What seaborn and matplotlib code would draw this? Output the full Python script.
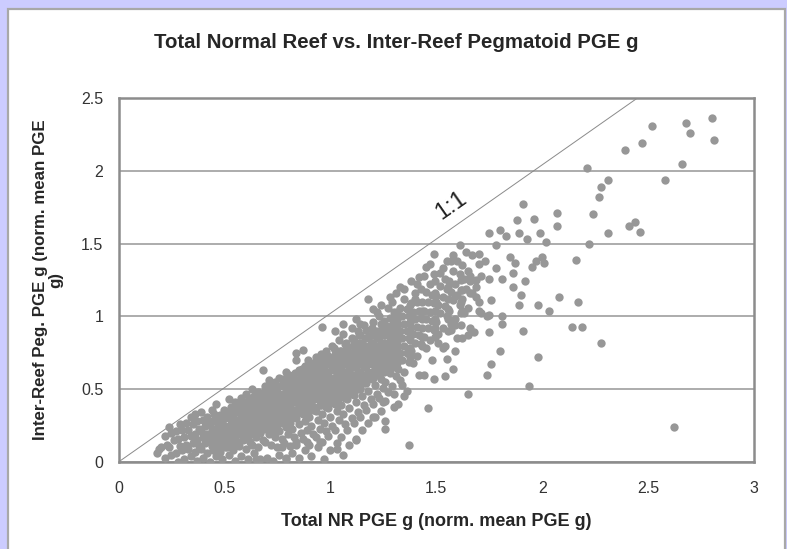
import seaborn as sns
import matplotlib.pyplot as plt
import pandas as pd
from matplotlib.patches import Rectangle

# lower-left end of the cloud (x 0.18 - 0.53)
low_x = [
    0.18, 0.19, 0.20,
    0.22, 0.23, 0.22,
    0.25, 0.24, 0.26, 0.25, 0.24,
    0.28, 0.27, 0.29, 0.28, 0.27, 0.29,
    0.31, 0.30, 0.32, 0.31, 0.30, 0.32,
    0.34, 0.33, 0.35, 0.34, 0.33, 0.35, 0.34,
    0.37, 0.36, 0.38, 0.37, 0.36, 0.38, 0.37, 0.36,
    0.40, 0.39, 0.41, 0.40, 0.39, 0.41, 0.40, 0.39,
    0.43, 0.42, 0.44, 0.43, 0.42, 0.44, 0.43, 0.42, 0.44,
    0.46, 0.45, 0.47, 0.46, 0.45, 0.47, 0.46, 0.45, 0.46,
    0.49, 0.48, 0.50, 0.49, 0.48, 0.50, 0.49, 0.48, 0.50,
    0.52, 0.51, 0.53, 0.52, 0.51, 0.53, 0.52, 0.51, 0.53, 0.52,
]
low_y = [
    0.06, 0.09, 0.10,
    0.03, 0.12, 0.18,
    0.05, 0.10, 0.15, 0.20, 0.24,
    0.00, 0.06, 0.11, 0.16, 0.21, 0.26,
    0.02, 0.08, 0.12, 0.17, 0.22, 0.27,
    0.04, 0.09, 0.13, 0.18, 0.22, 0.26, 0.31,
    0.01, 0.07, 0.11, 0.15, 0.19, 0.23, 0.28, 0.33,
    0.03, 0.09, 0.13, 0.17, 0.21, 0.25, 0.29, 0.34,
    0.00, 0.06, 0.11, 0.15, 0.19, 0.23, 0.27, 0.31, 0.36,
    0.04, 0.09, 0.13, 0.17, 0.21, 0.25, 0.29, 0.33, 0.40,
    0.02, 0.07, 0.12, 0.16, 0.20, 0.24, 0.28, 0.32, 0.36,
    0.05, 0.10, 0.14, 0.18, 0.22, 0.26, 0.30, 0.34, 0.38, 0.43,
]

# main body (x 0.54 - 0.89)
mid_x = [
    0.55, 0.54, 0.56, 0.55, 0.54, 0.56, 0.55, 0.54, 0.56, 0.55,
    0.58, 0.57, 0.59, 0.58, 0.57, 0.59, 0.58, 0.57, 0.59, 0.58,
    0.61, 0.60, 0.62, 0.61, 0.60, 0.62, 0.61, 0.60, 0.62, 0.61, 0.60,
    0.64, 0.63, 0.65, 0.64, 0.63, 0.65, 0.64, 0.63, 0.65, 0.64, 0.63,
    0.67, 0.66, 0.68, 0.67, 0.66, 0.68, 0.67, 0.66, 0.68, 0.67, 0.66, 0.68,
    0.70, 0.69, 0.71, 0.70, 0.69, 0.71, 0.70, 0.69, 0.71, 0.70, 0.69, 0.71,
    0.73, 0.72, 0.74, 0.73, 0.72, 0.74, 0.73, 0.72, 0.74, 0.73, 0.72, 0.74,
    0.76, 0.75, 0.77, 0.76, 0.75, 0.77, 0.76, 0.75, 0.77, 0.76, 0.75, 0.77, 0.76,
    0.79, 0.78, 0.80, 0.79, 0.78, 0.80, 0.79, 0.78, 0.80, 0.79, 0.78, 0.80, 0.79,
    0.82, 0.81, 0.83, 0.82, 0.81, 0.83, 0.82, 0.81, 0.83, 0.82, 0.81, 0.83, 0.82, 0.84,
    0.85, 0.84, 0.86, 0.85, 0.84, 0.86, 0.85, 0.84, 0.86, 0.85, 0.84, 0.86, 0.85, 0.84,
    0.88, 0.87, 0.89, 0.88, 0.87, 0.89, 0.88, 0.87, 0.89, 0.88, 0.87, 0.89, 0.88,
]
mid_y = [
    0.01, 0.08, 0.13, 0.17, 0.21, 0.25, 0.29, 0.33, 0.37, 0.41,
    0.04, 0.11, 0.15, 0.19, 0.23, 0.27, 0.31, 0.35, 0.39, 0.44,
    0.02, 0.09, 0.14, 0.18, 0.22, 0.26, 0.30, 0.34, 0.38, 0.42, 0.47,
    0.06, 0.12, 0.17, 0.21, 0.25, 0.29, 0.33, 0.37, 0.41, 0.45, 0.50,
    0.02, 0.10, 0.15, 0.20, 0.24, 0.28, 0.32, 0.36, 0.40, 0.44, 0.48, 0.63,
    0.03, 0.14, 0.19, 0.23, 0.27, 0.31, 0.35, 0.39, 0.43, 0.47, 0.52, 0.56,
    0.01, 0.12, 0.17, 0.22, 0.26, 0.30, 0.34, 0.38, 0.42, 0.46, 0.50, 0.55,
    0.05, 0.10, 0.16, 0.21, 0.25, 0.29, 0.33, 0.37, 0.41, 0.45, 0.49, 0.53, 0.58,
    0.02, 0.13, 0.19, 0.24, 0.28, 0.32, 0.36, 0.40, 0.44, 0.48, 0.52, 0.56, 0.62,
    0.06, 0.11, 0.17, 0.23, 0.27, 0.31, 0.35, 0.39, 0.43, 0.47, 0.51, 0.55, 0.59, 0.75,
    0.03, 0.14, 0.20, 0.26, 0.30, 0.34, 0.38, 0.42, 0.46, 0.50, 0.54, 0.58, 0.63, 0.70,
    0.08, 0.16, 0.22, 0.28, 0.33, 0.37, 0.41, 0.45, 0.49, 0.53, 0.57, 0.61, 0.66,
]

# upper body (x 0.90 - 1.25)
upper_x = [
    0.91, 0.90, 0.92, 0.91, 0.90, 0.92, 0.91, 0.90, 0.92, 0.91, 0.90, 0.92, 0.91, 0.90, 0.87,
    0.94, 0.93, 0.95, 0.94, 0.93, 0.95, 0.94, 0.93, 0.95, 0.94, 0.93, 0.95, 0.94, 0.93,
    0.97, 0.96, 0.98, 0.97, 0.96, 0.98, 0.97, 0.96, 0.98, 0.97, 0.96, 0.98, 0.97, 0.96, 0.98, 0.96,
    1.00, 0.99, 1.01, 1.00, 0.99, 1.01, 1.00, 0.99, 1.01, 1.00, 0.99, 1.01, 1.00, 0.99, 1.01,
    1.03, 1.02, 1.04, 1.03, 1.02, 1.04, 1.03, 1.02, 1.04, 1.03, 1.02, 1.04, 1.03, 1.02, 1.04,
    1.06, 1.05, 1.07, 1.06, 1.05, 1.07, 1.06, 1.05, 1.07, 1.06, 1.05, 1.07, 1.06, 1.05, 1.07, 1.06,
    1.09, 1.08, 1.10, 1.09, 1.08, 1.10, 1.09, 1.08, 1.10, 1.09, 1.08, 1.10, 1.09, 1.08, 1.10,
    1.12, 1.11, 1.13, 1.12, 1.11, 1.13, 1.12, 1.11, 1.13, 1.12, 1.11, 1.13, 1.12, 1.11, 1.13, 1.12,
    1.15, 1.14, 1.16, 1.15, 1.14, 1.16, 1.15, 1.14, 1.16, 1.15, 1.14, 1.16, 1.15, 1.14, 1.16,
    1.18, 1.17, 1.19, 1.18, 1.17, 1.19, 1.18, 1.17, 1.19, 1.18, 1.17, 1.19, 1.18, 1.17, 1.18,
    1.21, 1.20, 1.22, 1.21, 1.20, 1.22, 1.21, 1.20, 1.22, 1.21, 1.20, 1.22, 1.21, 1.20, 1.22,
    1.24, 1.23, 1.25, 1.24, 1.23, 1.25, 1.24, 1.23, 1.25, 1.24, 1.23, 1.25, 1.24, 1.23,
]
upper_y = [
    0.04, 0.12, 0.19, 0.25, 0.31, 0.36, 0.40, 0.44, 0.48, 0.52, 0.56, 0.60, 0.64, 0.69, 0.77,
    0.10, 0.17, 0.23, 0.29, 0.35, 0.39, 0.43, 0.47, 0.51, 0.55, 0.59, 0.63, 0.67, 0.72,
    0.02, 0.14, 0.21, 0.27, 0.33, 0.38, 0.42, 0.46, 0.50, 0.54, 0.58, 0.62, 0.66, 0.70, 0.76, 0.93,
    0.08, 0.18, 0.25, 0.31, 0.37, 0.41, 0.45, 0.49, 0.53, 0.57, 0.61, 0.65, 0.69, 0.73, 0.80,
    0.13, 0.22, 0.29, 0.35, 0.40, 0.44, 0.48, 0.52, 0.56, 0.60, 0.64, 0.68, 0.72, 0.77, 0.84,
    0.05, 0.17, 0.26, 0.33, 0.39, 0.44, 0.48, 0.52, 0.56, 0.60, 0.64, 0.68, 0.72, 0.76, 0.81, 0.88,
    0.12, 0.22, 0.30, 0.37, 0.43, 0.47, 0.51, 0.55, 0.59, 0.63, 0.67, 0.71, 0.75, 0.79, 0.85,
    0.16, 0.27, 0.34, 0.41, 0.46, 0.50, 0.54, 0.58, 0.62, 0.66, 0.70, 0.74, 0.78, 0.83, 0.90, 0.98,
    0.22, 0.31, 0.39, 0.45, 0.50, 0.54, 0.58, 0.62, 0.66, 0.70, 0.74, 0.78, 0.82, 0.87, 0.94,
    0.27, 0.36, 0.43, 0.49, 0.54, 0.58, 0.62, 0.66, 0.70, 0.74, 0.78, 0.82, 0.86, 0.91, 1.12,
    0.31, 0.40, 0.47, 0.53, 0.58, 0.62, 0.66, 0.70, 0.74, 0.78, 0.82, 0.86, 0.90, 0.96, 1.03,
    0.35, 0.44, 0.51, 0.57, 0.62, 0.66, 0.70, 0.74, 0.78, 0.82, 0.86, 0.90, 0.95, 1.00,
]

# thinning tail (x 1.26 - 1.71)
tail_x = [
    1.27, 1.26, 1.28, 1.27, 1.26, 1.28, 1.27, 1.26, 1.28, 1.27, 1.26, 1.28, 1.27,
    1.30, 1.29, 1.31, 1.30, 1.29, 1.31, 1.30, 1.29, 1.31, 1.30, 1.29, 1.31, 1.30, 1.29,
    1.33, 1.32, 1.34, 1.33, 1.32, 1.34, 1.33, 1.32, 1.34, 1.33, 1.33,
    1.36, 1.35, 1.37, 1.36, 1.35, 1.37, 1.36, 1.35, 1.37, 1.36, 1.35,
    1.39, 1.38, 1.40, 1.39, 1.38, 1.40, 1.39, 1.38, 1.40,
    1.42, 1.41, 1.43, 1.42, 1.41, 1.43, 1.42, 1.41, 1.43, 1.42,
    1.45, 1.44, 1.46, 1.45, 1.44, 1.46, 1.45, 1.45,
    1.48, 1.47, 1.49, 1.48, 1.47, 1.49, 1.48, 1.47, 1.49,
    1.51, 1.50, 1.52, 1.51, 1.50, 1.52, 1.49,
    1.54, 1.53, 1.55, 1.54, 1.53, 1.55, 1.54, 1.53,
    1.57, 1.56, 1.58, 1.57, 1.56, 1.58,
    1.60, 1.59, 1.61, 1.60, 1.59, 1.61, 1.60, 1.61,
    1.63, 1.62, 1.64, 1.63, 1.62,
    1.66, 1.65, 1.67, 1.66, 1.65, 1.67,
    1.70, 1.69, 1.71, 1.70, 1.70,
]
tail_y = [
    0.48, 0.55, 0.61, 0.66, 0.70, 0.74, 0.78, 0.82, 0.86, 0.90, 0.94, 0.99, 1.06,
    0.38, 0.52, 0.59, 0.65, 0.70, 0.74, 0.78, 0.82, 0.86, 0.90, 0.94, 0.98, 1.03, 1.10,
    0.56, 0.64, 0.70, 0.75, 0.80, 0.85, 0.90, 0.95, 1.00, 1.06, 1.20,
    0.49, 0.62, 0.69, 0.75, 0.80, 0.85, 0.90, 0.95, 1.00, 1.05, 1.12,
    0.68, 0.76, 0.82, 0.88, 0.93, 0.98, 1.03, 1.09, 1.16,
    0.60, 0.73, 0.81, 0.87, 0.93, 0.99, 1.04, 1.10, 1.19, 1.27,
    0.78, 0.86, 0.92, 0.98, 1.04, 1.10, 1.17, 1.34,
    0.70, 0.84, 0.91, 0.97, 1.03, 1.09, 1.15, 1.22, 1.29,
    0.88, 0.96, 1.02, 1.08, 1.14, 1.21, 1.43,
    0.80, 0.92, 1.00, 1.07, 1.13, 1.19, 1.26, 1.33,
    0.95, 1.04, 1.11, 1.17, 1.24, 1.31,
    0.85, 0.98, 1.08, 1.15, 1.22, 1.29, 1.38, 1.49,
    1.02, 1.12, 1.19, 1.26, 1.35,
    0.92, 1.06, 1.16, 1.24, 1.31, 1.42,
    1.10, 1.20, 1.28, 1.36, 1.43,
]

# the solid core of the cloud
core_x = [
    0.445, 0.445, 0.445, 0.445, 0.445,
    0.505, 0.505, 0.505, 0.505, 0.505, 0.505,
    0.565, 0.565, 0.565, 0.565, 0.565, 0.565,
    0.625, 0.625, 0.625, 0.625, 0.625, 0.625,
    0.685, 0.685, 0.685, 0.685, 0.685, 0.685,
    0.745, 0.745, 0.745, 0.745, 0.745, 0.745,
    0.805, 0.805, 0.805, 0.805, 0.805, 0.805, 0.805,
    0.865, 0.865, 0.865, 0.865, 0.865, 0.865, 0.865,
    0.925, 0.925, 0.925, 0.925, 0.925, 0.925, 0.925,
    0.985, 0.985, 0.985, 0.985, 0.985, 0.985, 0.985,
    1.045, 1.045, 1.045, 1.045, 1.045, 1.045, 1.045,
    1.105, 1.105, 1.105, 1.105, 1.105, 1.105, 1.105,
    1.165, 1.165, 1.165, 1.165, 1.165, 1.165, 1.165,
    1.225, 1.225, 1.225, 1.225, 1.225, 1.225, 1.225,
    1.285, 1.285, 1.285, 1.285, 1.285, 1.285,
]
core_y = [
    0.08, 0.13, 0.18, 0.23, 0.28,
    0.10, 0.15, 0.20, 0.25, 0.30, 0.35,
    0.14, 0.19, 0.24, 0.29, 0.34, 0.39,
    0.19, 0.24, 0.29, 0.34, 0.39, 0.44,
    0.23, 0.28, 0.33, 0.38, 0.43, 0.48,
    0.26, 0.31, 0.36, 0.41, 0.46, 0.51,
    0.30, 0.35, 0.40, 0.45, 0.50, 0.55, 0.60,
    0.34, 0.39, 0.44, 0.49, 0.54, 0.59, 0.64,
    0.38, 0.43, 0.48, 0.53, 0.58, 0.63, 0.68,
    0.42, 0.47, 0.52, 0.57, 0.62, 0.67, 0.72,
    0.46, 0.51, 0.56, 0.61, 0.66, 0.71, 0.76,
    0.50, 0.55, 0.60, 0.65, 0.70, 0.75, 0.80,
    0.55, 0.60, 0.65, 0.70, 0.75, 0.80, 0.85,
    0.60, 0.65, 0.70, 0.75, 0.80, 0.85, 0.90,
    0.66, 0.71, 0.76, 0.81, 0.86, 0.91,
]

# more of the core, between the columns above
core2_x = [
    0.475, 0.475, 0.475, 0.475, 0.475,
    0.535, 0.535, 0.535, 0.535, 0.535, 0.535,
    0.595, 0.595, 0.595, 0.595, 0.595, 0.595,
    0.655, 0.655, 0.655, 0.655, 0.655, 0.655,
    0.715, 0.715, 0.715, 0.715, 0.715, 0.715, 0.715,
    0.775, 0.775, 0.775, 0.775, 0.775, 0.775, 0.775,
    0.835, 0.835, 0.835, 0.835, 0.835, 0.835, 0.835,
    0.895, 0.895, 0.895, 0.895, 0.895, 0.895, 0.895, 0.895,
    0.955, 0.955, 0.955, 0.955, 0.955, 0.955, 0.955, 0.955,
    1.015, 1.015, 1.015, 1.015, 1.015, 1.015, 1.015, 1.015,
    1.075, 1.075, 1.075, 1.075, 1.075, 1.075, 1.075, 1.075,
    1.135, 1.135, 1.135, 1.135, 1.135, 1.135, 1.135, 1.135,
    1.195, 1.195, 1.195, 1.195, 1.195, 1.195, 1.195, 1.195,
    1.255, 1.255, 1.255, 1.255, 1.255, 1.255, 1.255, 1.255,
    1.315, 1.315, 1.315, 1.315, 1.315, 1.315, 1.315, 1.315,
    1.375, 1.375, 1.375, 1.375, 1.375, 1.375, 1.375,
    1.435, 1.435, 1.435, 1.435, 1.435, 1.435,
    1.495, 1.495, 1.495, 1.495, 1.495, 1.495, 1.495,
    1.555, 1.555, 1.555, 1.555, 1.555,
    1.615, 1.615, 1.615, 1.615, 1.615,
]
core2_y = [
    0.10, 0.15, 0.20, 0.25, 0.30,
    0.12, 0.17, 0.22, 0.27, 0.32, 0.37,
    0.16, 0.21, 0.26, 0.31, 0.36, 0.41,
    0.20, 0.25, 0.30, 0.35, 0.40, 0.45,
    0.24, 0.29, 0.34, 0.39, 0.44, 0.49, 0.54,
    0.27, 0.32, 0.37, 0.42, 0.47, 0.52, 0.57,
    0.31, 0.36, 0.41, 0.46, 0.51, 0.56, 0.61,
    0.35, 0.40, 0.45, 0.50, 0.55, 0.60, 0.65, 0.70,
    0.39, 0.44, 0.49, 0.54, 0.59, 0.64, 0.69, 0.74,
    0.43, 0.48, 0.53, 0.58, 0.63, 0.68, 0.73, 0.78,
    0.47, 0.52, 0.57, 0.62, 0.67, 0.72, 0.77, 0.82,
    0.52, 0.57, 0.62, 0.67, 0.72, 0.77, 0.82, 0.87,
    0.57, 0.62, 0.67, 0.72, 0.77, 0.82, 0.87, 0.92,
    0.62, 0.67, 0.72, 0.77, 0.82, 0.87, 0.92, 0.97,
    0.68, 0.73, 0.78, 0.83, 0.88, 0.93, 0.98, 1.03,
    0.72, 0.78, 0.84, 0.90, 0.96, 1.02, 1.08,
    0.80, 0.86, 0.92, 0.98, 1.04, 1.10,
    0.86, 0.92, 0.98, 1.04, 1.10, 1.16, 1.24,
    0.90, 0.98, 1.05, 1.12, 1.20,
    0.94, 1.02, 1.10, 1.18, 1.25,
]

# upper edge of the cloud between 1 and 1.65
edge_x = [1.20, 1.24, 1.28, 1.31, 1.35, 1.38, 1.41, 1.44, 1.47, 1.52,
          1.55, 1.58, 1.64, 1.26, 1.30, 1.34, 1.14, 1.10, 1.06, 1.02]
edge_y = [1.05, 1.08, 1.13, 1.16, 1.19, 1.24, 1.22, 1.28, 1.36, 1.30,
          1.38, 1.42, 1.44, 0.42, 0.47, 0.53, 0.95, 0.92, 0.95, 0.90]

# scattered samples away from the main cloud
sparse_x = [
    2.80, 2.81, 2.68, 2.70, 2.52, 2.47, 2.39, 2.66, 2.58, 2.21,
    2.31, 2.28, 2.27, 2.24, 2.22, 2.31, 2.41, 2.44, 2.46, 2.16,
    2.07, 2.07, 1.91, 1.96, 1.99, 2.02, 1.88, 1.75, 1.80, 1.83,
    1.78, 1.89, 1.93, 2.00, 2.01, 1.95, 1.87, 1.85, 2.62, 2.28,
    2.19, 2.14, 2.17, 2.08, 2.03, 1.98, 1.98, 1.94, 1.91, 1.89,
    1.90, 1.92, 1.86, 1.81, 1.76, 1.74, 1.80, 1.75, 1.81, 1.81,
    1.76, 1.65, 1.68, 1.65, 1.59, 1.58, 1.55, 1.54, 1.49, 1.46,
    1.44, 1.37, 1.35, 1.32, 1.26, 1.26, 1.25, 1.69, 1.74, 1.71,
    1.59, 1.57, 1.62, 1.53, 1.51, 1.73, 1.78, 1.86, 1.97, 1.66,
    1.75, 1.69, 1.62, 1.66, 1.59, 1.50, 1.40, 1.62, 1.70, 1.75,
    1.12, 1.20, 1.03, 0.95, 0.89, 0.84, 0.77, 0.65, 0.79, 1.57,
]
sparse_y = [
    2.36, 2.21, 2.33, 2.26, 2.31, 2.19, 2.14, 2.05, 1.94, 2.02,
    1.94, 1.89, 1.82, 1.70, 1.50, 1.57, 1.62, 1.65, 1.58, 1.39,
    1.71, 1.62, 1.77, 1.67, 1.57, 1.51, 1.66, 1.57, 1.59, 1.55,
    1.49, 1.57, 1.53, 1.41, 1.37, 1.34, 1.37, 1.41, 0.24, 0.82,
    0.93, 0.93, 1.10, 1.13, 1.04, 1.08, 0.72, 0.52, 0.90, 1.08,
    1.15, 1.24, 1.20, 1.26, 0.67, 0.60, 0.76, 0.89, 0.95, 1.00,
    1.11, 0.47, 0.89, 0.87, 0.76, 0.64, 0.71, 0.59, 0.57, 0.37,
    0.60, 0.12, 0.45, 0.40, 0.28, 0.23, 0.41, 1.13, 1.00, 1.02,
    0.94, 0.91, 0.85, 0.78, 0.82, 1.38, 1.33, 1.30, 1.38, 1.28,
    1.26, 1.25, 1.18, 1.16, 1.14, 1.10, 1.12, 1.04, 1.04, 1.01,
    0.15, 0.31, 0.09, 0.14, 0.14, 0.12, 0.10, 0.02, 0.03, 1.38,
]

x_ticks = [0, 0.5, 1, 1.5, 2, 2.5, 3]
y_ticks = [0, 0.5, 1, 1.5, 2, 2.5]
ref_x = [0, 2.45]
ref_y = [0, 2.5]

df = pd.DataFrame({
    "nr": low_x + mid_x + upper_x + tail_x + core_x + core2_x + edge_x + sparse_x,
    "ir": low_y + mid_y + upper_y + tail_y + core_y + core2_y + edge_y + sparse_y,
})

sns.set_style("white")
plt.rcParams['font.family'] = ['Liberation Sans', 'DejaVu Sans']

fig = plt.figure(figsize=(7.87, 5.49), dpi=100)
fig.patch.set_facecolor('#ccccff')
W, H = 787, 549
panel = Rectangle((8 / W, -0.05), (785 - 8) / W, (549 - 9) / H + 0.05,
                  transform=fig.transFigure, facecolor='white',
                  edgecolor='#a8a8a8', lw=1.6, zorder=-10)
fig.patches.append(panel)

ax = fig.add_axes([118.5 / W, 1 - 462 / H, (754 - 118.5) / W, (462 - 98) / H])
ax.set_zorder(1)
ax.set_facecolor('white')

sns.scatterplot(data=df, x="nr", y="ir", color='#979797', s=36, linewidth=0,
                ax=ax, zorder=3, legend=False)
ax.plot(ref_x, ref_y, color='#8a8a8a', lw=0.7, zorder=2)
ax.text(1.57, 1.76, "1:1", rotation=35, ha='center', va='center',
        fontsize=17, color='#222222', zorder=4)

ax.set_xlim(0, 3)
ax.set_ylim(0, 2.5)
ax.set_xticks(x_ticks)
ax.set_yticks(y_ticks)
ax.set_xticklabels(["0", "0.5", "1", "1.5", "2", "2.5", "3"])
ax.set_yticklabels(["0", "0.5", "1", "1.5", "2", "2.5"])
ax.yaxis.grid(True, color='#a6a6a6', lw=1.3, zorder=1)
ax.xaxis.grid(False)
ax.set_axisbelow(True)
for s in ax.spines.values():
    s.set_color('#8c8c8c')
    s.set_linewidth(1.8)
ax.tick_params(axis='both', direction='out', length=5, width=1.2, color='#8c8c8c',
               labelsize=11.5, labelcolor='#333333', pad=6)
ax.tick_params(axis='x', pad=9)

ax.set_title("Total Normal Reef vs. Inter-Reef Pegmatoid PGE g", fontsize=14.7,
             fontweight='bold', x=(396 - 118.5) / 635.5, y=(462 - 42) / 364,
             va='center', pad=0)
ax.set_xlabel("Total NR PGE g (norm. mean PGE g)", fontsize=13, fontweight='bold')
ax.xaxis.label.set(va='center')
ax.xaxis.set_label_coords(0.5, (462 - 521) / 364)
ax.set_ylabel("Inter-Reef Peg. PGE g (norm. mean PGE\ng)", fontsize=12.2,
              fontweight='bold', linespacing=1.05)
ax.yaxis.label.set(va='center', ha='center', rotation_mode='default')
ax.yaxis.set_label_coords((48 - 118.5) / 635.5, 0.5)

fig.savefig("out.png", dpi=100, facecolor=fig.get_facecolor())
